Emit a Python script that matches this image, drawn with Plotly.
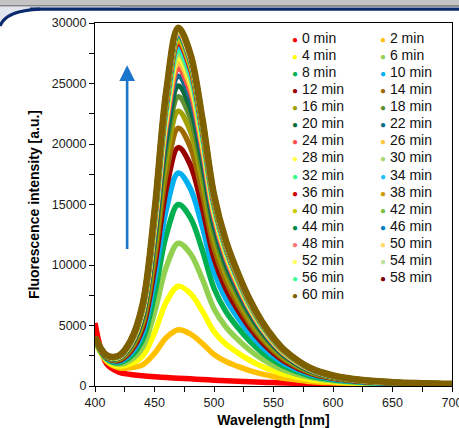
import plotly.graph_objects as go

# ---------------- data ----------------
wavelength = [400, 410, 420, 430, 440, 450, 460, 470, 480, 490, 500, 510, 520, 530, 540, 550, 560, 580, 600, 625, 650, 700]

times = [0, 2, 4, 6, 8, 10, 12, 14, 16, 18, 20, 22, 24, 26, 28, 30, 32, 34, 36, 38, 40, 42, 44, 46, 48, 50, 52, 54, 56, 58, 60]

colors = ["#ff0000", "#ffc000", "#ffff00", "#92d050", "#00b050", "#00b0f0", "#990000", "#9c6a00",
          "#a0a000", "#5f8f2f", "#0b6b3a", "#0f6e8c", "#ff5050", "#ffc33c", "#ffff40", "#a8d870",
          "#33ff88", "#20c0ff", "#d40000", "#d09a00", "#cccc00", "#80c040", "#00884a", "#0080c0",
          "#ff7777", "#ffd966", "#ffff66", "#c0e0a0", "#40ff99", "#7a0000", "#7f6000"]

i_0 = [5200, 1800, 1150, 950, 850, 770, 700, 640, 590, 540, 480, 430, 390, 350, 310, 280, 250, 200, 160, 120, 100, 60]
i_2 = [3660, 2030, 1510, 1510, 1750, 2700, 4010, 4650, 4310, 3530, 2600, 2020, 1620, 1280, 1000, 780, 610, 380, 270, 190, 150, 100]
i_4 = [3710, 2100, 1650, 1840, 2470, 4400, 6960, 8250, 7660, 6230, 4500, 3460, 2740, 2130, 1630, 1240, 940, 550, 350, 230, 170, 110]
i_6 = [3770, 2170, 1800, 2150, 3180, 6070, 9870, 11800, 10960, 8890, 6390, 4880, 3840, 2960, 2250, 1700, 1270, 710, 440, 270, 200, 120]
i_8 = [3820, 2240, 1920, 2440, 3820, 7570, 12500, 15000, 13940, 11290, 8080, 6160, 4830, 3710, 2810, 2110, 1560, 860, 510, 310, 220, 130]
i_10 = [3850, 2290, 2030, 2680, 4340, 8790, 14630, 17600, 16350, 13240, 9460, 7200, 5640, 4330, 3270, 2440, 1800, 980, 580, 340, 240, 140]
i_12 = [3890, 2330, 2110, 2870, 4760, 9780, 16350, 19700, 18310, 14820, 10570, 8040, 6290, 4820, 3640, 2710, 1990, 1080, 630, 370, 250, 150]
i_14 = [3910, 2360, 2180, 3010, 5080, 10530, 17660, 21300, 19790, 16020, 11420, 8680, 6790, 5200, 3920, 2910, 2140, 1150, 670, 390, 260, 150]
i_16 = [3930, 2390, 2230, 3140, 5360, 11190, 18810, 22700, 21100, 17070, 12160, 9240, 7220, 5520, 4160, 3090, 2270, 1210, 700, 410, 270, 160]
i_18 = [3950, 2420, 2280, 3240, 5600, 11750, 19790, 23900, 22210, 17970, 12800, 9720, 7590, 5810, 4370, 3250, 2380, 1270, 730, 420, 280, 160]
i_20 = [3960, 2430, 2320, 3320, 5780, 12180, 20530, 24800, 23050, 18640, 13280, 10080, 7870, 6020, 4530, 3360, 2460, 1310, 750, 430, 290, 160]
i_22 = [3970, 2450, 2350, 3400, 5940, 12550, 21190, 25600, 23790, 19240, 13700, 10400, 8120, 6210, 4670, 3460, 2540, 1350, 770, 440, 290, 170]
i_24 = [3980, 2460, 2370, 3450, 6060, 12830, 21680, 26200, 24350, 19690, 14020, 10640, 8300, 6350, 4770, 3540, 2590, 1380, 780, 450, 300, 170]
i_26 = [3990, 2470, 2390, 3500, 6160, 13070, 22090, 26700, 24820, 20070, 14280, 10840, 8460, 6460, 4860, 3610, 2640, 1400, 800, 450, 300, 170]
i_28 = [4000, 2480, 2410, 3530, 6240, 13260, 22420, 27100, 25190, 20370, 14490, 11000, 8580, 6560, 4930, 3660, 2670, 1420, 810, 460, 310, 170]
i_30 = [4000, 2490, 2420, 3560, 6310, 13420, 22700, 27450, 25510, 20630, 14680, 11140, 8690, 6640, 4990, 3700, 2710, 1430, 810, 460, 310, 170]
i_32 = [4010, 2490, 2430, 3590, 6370, 13560, 22950, 27750, 25790, 20850, 14840, 11260, 8780, 6710, 5040, 3740, 2730, 1450, 820, 470, 310, 170]
i_34 = [4010, 2500, 2450, 3620, 6430, 13700, 23200, 28050, 26070, 21080, 15000, 11380, 8880, 6780, 5100, 3780, 2760, 1460, 830, 470, 310, 170]
i_36 = [4020, 2500, 2460, 3640, 6480, 13820, 23400, 28300, 26300, 21270, 15130, 11480, 8950, 6840, 5140, 3810, 2780, 1470, 830, 470, 310, 170]
i_38 = [4020, 2510, 2460, 3660, 6520, 13910, 23570, 28500, 26490, 21420, 15240, 11560, 9020, 6890, 5180, 3840, 2800, 1480, 840, 470, 320, 170]
i_40 = [4020, 2510, 2470, 3680, 6560, 14010, 23730, 28700, 26680, 21570, 15340, 11640, 9080, 6930, 5210, 3860, 2820, 1490, 840, 480, 320, 170]
i_42 = [4020, 2510, 2480, 3690, 6590, 14080, 23850, 28850, 26820, 21680, 15420, 11700, 9130, 6970, 5240, 3880, 2840, 1500, 850, 480, 320, 180]
i_44 = [4030, 2520, 2480, 3700, 6620, 14150, 23980, 29000, 26960, 21790, 15500, 11760, 9170, 7000, 5260, 3900, 2850, 1500, 850, 480, 320, 180]
i_46 = [4030, 2520, 2490, 3710, 6640, 14200, 24060, 29100, 27050, 21870, 15550, 11800, 9200, 7030, 5280, 3910, 2860, 1510, 850, 480, 320, 180]
i_48 = [4030, 2520, 2490, 3720, 6660, 14240, 24140, 29200, 27140, 21940, 15610, 11840, 9230, 7050, 5300, 3930, 2870, 1510, 860, 480, 320, 180]
i_50 = [4030, 2520, 2500, 3730, 6680, 14290, 24220, 29300, 27230, 22020, 15660, 11880, 9270, 7080, 5320, 3940, 2880, 1520, 860, 480, 320, 180]
i_52 = [4030, 2530, 2500, 3740, 6700, 14330, 24290, 29380, 27310, 22080, 15700, 11920, 9290, 7090, 5330, 3950, 2880, 1520, 860, 490, 320, 180]
i_54 = [4030, 2530, 2500, 3740, 6710, 14360, 24340, 29450, 27370, 22130, 15740, 11940, 9310, 7110, 5340, 3960, 2890, 1530, 860, 490, 320, 180]
i_56 = [4030, 2530, 2500, 3750, 6720, 14380, 24390, 29500, 27420, 22170, 15770, 11960, 9330, 7120, 5350, 3960, 2900, 1530, 860, 490, 320, 180]
i_58 = [4030, 2530, 2510, 3750, 6730, 14410, 24430, 29550, 27470, 22200, 15790, 11980, 9340, 7130, 5360, 3970, 2900, 1530, 860, 490, 320, 180]
i_60 = [4030, 2530, 2510, 3760, 6740, 14430, 24470, 29600, 27510, 22240, 15820, 12000, 9360, 7150, 5370, 3980, 2900, 1530, 870, 490, 320, 180]

spectra = [i_0, i_2, i_4, i_6, i_8, i_10, i_12, i_14, i_16, i_18, i_20, i_22, i_24, i_26, i_28, i_30,
           i_32, i_34, i_36, i_38, i_40, i_42, i_44, i_46, i_48, i_50, i_52, i_54, i_56, i_58, i_60]

x_ticks = [400, 450, 500, 550, 600, 650, 700]
y_ticks = [0, 5000, 10000, 15000, 20000, 25000, 30000]

# arrow (data coordinates of tail and tip)
arrow_x = 427
arrow_y_tail = 11200
arrow_y_tip = 26500

# ---------------- layout geometry ----------------
W, H = 459, 428
ML, MR, MT, MB = 95, 7, 23, 42
PW, PH = W - ML - MR, H - MT - MB


def px(xp):
    return (xp - ML) / PW


def py(yp):
    return (H - MB - yp) / PH


FONT = "Liberation Sans, Arial, sans-serif"

fig = go.Figure()
for t, c, ys in zip(times, colors, spectra):
    fig.add_trace(go.Scatter(
        x=wavelength, y=ys, mode="lines", name=f"{t} min",
        line=dict(color=c, width=6.5 if t == times[-1] else 5.5, shape="spline", smoothing=1.0),
        showlegend=False,
    ))

# custom two-column legend as text annotations
annotations = []
col_left = [290, 378]
row_top = 37.7
row_step = 17.1
for i, (t, c) in enumerate(zip(times, colors)):
    col, row = i % 2, i // 2
    annotations.append(dict(
        xref="paper", yref="paper", x=px(col_left[col]), y=py(row_top + row * row_step),
        xanchor="left", yanchor="middle", showarrow=False,
        text=f'<span style="color:{c};font-size:10px">●</span> {t} min',
        font=dict(family=FONT, size=14, color="#111"),
    ))

# blue arrow
annotations.append(dict(
    x=arrow_x, y=arrow_y_tip, ax=arrow_x, ay=arrow_y_tail, xref="x", yref="y", axref="x", ayref="y",
    showarrow=True, arrowhead=2, arrowsize=1.2, arrowwidth=2.6, arrowcolor="#1a75cc", text="",
))


def path(points, close=False):
    s = ""
    for k, p in enumerate(points):
        if p[0] == "Q":
            s += f" Q {px(p[1])},{py(p[2])} {px(p[3])},{py(p[4])}"
        else:
            s += (" M " if k == 0 else " L ") + f"{px(p[0])},{py(p[1])}"
    return s + (" Z" if close else "")


shapes = [
    dict(type="rect", xref="paper", yref="paper", x0=px(0), x1=px(W), y0=py(5.5), y1=py(0),
         fillcolor="#c4c4c4", line=dict(width=0), layer="above"),
    dict(type="rect", xref="paper", yref="paper", x0=px(0), x1=px(W), y0=py(6.6), y1=py(5.5),
         fillcolor="#2a2a2a", line=dict(width=0), layer="above"),
    dict(type="path", xref="paper", yref="paper",
         path=path([(0, 6.6), (0, 26), ("Q", 6, 10, 40, 9), (120, 9), (120, 6.6)], close=True),
         fillcolor="#e3e6ee", line=dict(width=0), layer="above"),
    dict(type="rect", xref="paper", yref="paper", x0=px(30), x1=px(W), y0=py(10.8), y1=py(7.6),
         fillcolor="#0b2a6e", line=dict(width=0), layer="above"),
    dict(type="path", xref="paper", yref="paper",
         path=path([(0, 26), ("Q", 6, 10.5, 40, 9.2)]),
         line=dict(color="#0b2a6e", width=3.2), layer="above"),
]

axis_common = dict(
    showline=True, linecolor="black", linewidth=1, mirror=True, ticks="outside", ticklen=5,
    tickcolor="black", tickwidth=1, showgrid=False, zeroline=False,
    tickfont=dict(family=FONT, size=12.5, color="#1a1a1a"),
)

fig.update_layout(
    width=W, height=H, margin=dict(l=ML, r=MR, t=MT, b=MB, autoexpand=False),
    paper_bgcolor="white", plot_bgcolor="white",
    showlegend=False,
    xaxis=dict(range=[400, 700], tickvals=x_ticks, ticktext=[str(v) for v in x_ticks],
               ticklabeloverflow="allow",
               minor=dict(dtick=25, tick0=400, ticks="outside", ticklen=5, tickcolor="black"),
               title=dict(text="<b>Wavelength [nm]</b>", font=dict(family=FONT, size=14, color="black"),
                          standoff=8),
               **axis_common),
    yaxis=dict(range=[0, 30000], tickvals=y_ticks, ticktext=[str(v) for v in y_ticks],
               minor=dict(dtick=2500, tick0=0, ticks="outside", ticklen=5, tickcolor="black"),
               title=dict(text="<b>Fluorescence intensity [a.u.]</b>",
                          font=dict(family=FONT, size=14, color="black"), standoff=8),
               **axis_common),
    annotations=annotations,
    shapes=shapes,
)

fig.write_html("out.html")
